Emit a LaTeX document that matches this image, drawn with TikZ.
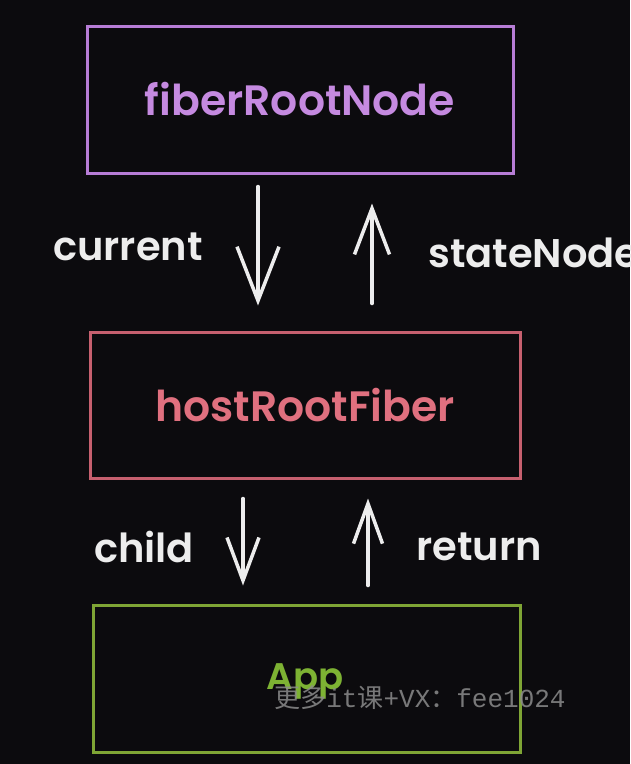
\documentclass[tikz,border=0pt]{standalone}
\usepackage{fontspec}
\setmainfont{Poppins SemiBold}
\newfontfamily\cjkfont{Noto Sans CJK SC}
\newfontfamily\wmmono{Liberation Mono}
\usetikzlibrary{arrows.meta}
\definecolor{bg}{HTML}{0C0B0E}
\definecolor{purp}{HTML}{B77DD6}
\definecolor{purptext}{HTML}{C58AE0}
\definecolor{redbox}{HTML}{C7606F}
\definecolor{redtext}{HTML}{E0707F}
\definecolor{greenbox}{HTML}{7FA535}
\definecolor{greentext}{HTML}{7DB233}
\definecolor{chalk}{HTML}{EDEDED}
\definecolor{wm}{HTML}{8C8C8C}
\tikzset{
  boxbase/.style={draw, line width=3pt, inner sep=0pt, font=\fontsize{42.5}{48}\selectfont},
  fiberbox/.style={boxbase, draw=purp, text=purptext, minimum width=426pt, minimum height=147pt},
  hostbox/.style={boxbase, draw=redbox, text=redtext, minimum width=430pt, minimum height=146pt},
  appbox/.style={boxbase, draw=greenbox, minimum width=427pt, minimum height=147pt},
  apptext/.style={text=greentext, font=\fontsize{37}{42}\selectfont, inner sep=0pt},
  lbl/.style={text=chalk, font=\fontsize{40}{46}\selectfont, inner sep=0pt},
  arr/.style 2 args={draw=chalk, line width=3.5pt, line cap=round,
    -{Straight Barb[length=#1,width=#2,line width=3.5pt]}},
  wmark/.style={text=wm, opacity=0.85, font=\fontsize{26}{30}\selectfont, inner sep=0pt}
}
\begin{document}
\begin{tikzpicture}[x=1pt,y=-1pt]
  \fill[bg] (0,0) rectangle (630,764);
  \useasboundingbox (0,0) rectangle (630,764);
  \clip (0,0) rectangle (630,764);

  \node[fiberbox] (top) at (300,99.5) {fiberRootNode};
  \node[hostbox] (mid) at (305,405) {hostRootFiber};
  \node[appbox] (app) at (306.5,678.5) {};
  \node[apptext] (apptxt) at (305,681) {App};

  % top pair
  \draw[arr={54pt}{42pt}, shorten <=12pt, shorten >=25pt] ([xshift=-42pt]top.south) -- ([xshift=-47pt]mid.north);
  \draw[arr={46pt}{35pt}, shorten <=27pt, shorten >=29pt] ([xshift=67pt]mid.north) -- ([xshift=72pt]top.south);
  \node[lbl] (current) at (128,247) {current};
  \node[lbl, anchor=west] (statenode) at (428,253) {stateNode};

  % bottom pair
  \draw[arr={43pt}{32pt}, shorten <=19pt, shorten >=18pt] ([xshift=-62pt]mid.south) -- ([xshift=-63.5pt]app.north);
  \draw[arr={40pt}{29pt}, shorten <=18pt, shorten >=19pt] ([xshift=61.5pt]app.north) -- ([xshift=63pt]mid.south);
  \node[lbl] (child) at (144,547) {child};
  \node[lbl] (return) at (479,547) {return};

  \node[wmark] (wmtxt) at (420,698) {{\cjkfont 更多}{\wmmono it}{\cjkfont 课}{\wmmono +VX}{\cjkfont ：}{\wmmono fee1024}};
\end{tikzpicture}
\end{document}
